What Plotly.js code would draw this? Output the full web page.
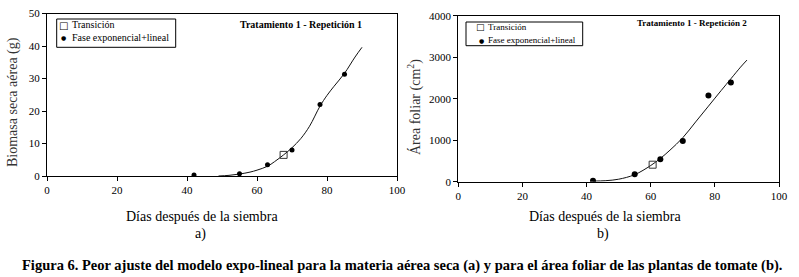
<!DOCTYPE html>
<html>
<head>
<meta charset="utf-8">
<script src="https://cdn.plot.ly/plotly-3.0.1.min.js"></script>
<style>html,body{margin:0;padding:0;background:#fff;}#chart{width:799px;height:277px;}</style>
</head>
<body>
<div id="chart"></div>
<script>
// Panel a) Biomasa seca aérea (g)
const aDays = [42, 55, 63, 70, 78, 85];
const aBiomass = [0.3, 0.7, 3.5, 8.0, 22.0, 31.3];
const aTransDay = [67.6];
const aTransVal = [6.5];
const aFitDays = [49, 52, 55, 58, 60, 63, 65, 67.6, 70, 72.5, 75, 78, 80, 82, 85, 88, 90];
const aFitVals = [0, 0.2, 0.6, 1.2, 1.8, 3.0, 4.4, 6.5, 8.7, 11.5, 15.3, 21.5, 24.8, 27.6, 31.6, 36.6, 39.6];

// Panel b) Área foliar (cm2)
const bDays = [42, 55, 63, 70, 78, 85];
const bArea = [20, 180, 540, 980, 2080, 2390];
const bTransDay = [60.6];
const bTransVal = [410];
const bFitDays = [42, 46, 50, 55, 60, 63, 66, 70, 74, 78, 82, 85, 88, 90];
const bFitVals = [15, 25, 60, 170, 390, 560, 760, 1060, 1440, 1820, 2200, 2480, 2760, 2930];

const xTicks = [0, 20, 40, 60, 80, 100];
const legendLabels = ['Transición', 'Fase exponencial+lineal'];
const serif = 'Liberation Serif, Times New Roman, serif';
const W = 799, H = 277;
const px = v => v / W;
const py = v => 1 - v / H;

const traces = [
  {x: aFitDays, y: aFitVals, type: 'scatter', mode: 'lines', line: {color: '#111', width: 1, shape: 'spline'},
   xaxis: 'x', yaxis: 'y'},
  {x: aTransDay, y: aTransVal, type: 'scatter', mode: 'markers', name: legendLabels[0],
   marker: {symbol: 'square-open', size: 7, color: '#333', line: {width: 1}}, xaxis: 'x', yaxis: 'y'},
  {x: aDays, y: aBiomass, type: 'scatter', mode: 'markers', name: legendLabels[1],
   marker: {symbol: 'circle', size: 5, color: '#000'}, xaxis: 'x', yaxis: 'y'},
  {x: bFitDays, y: bFitVals, type: 'scatter', mode: 'lines', line: {color: '#111', width: 1, shape: 'spline'},
   xaxis: 'x2', yaxis: 'y2'},
  {x: bTransDay, y: bTransVal, type: 'scatter', mode: 'markers', name: legendLabels[0],
   marker: {symbol: 'square-open', size: 7, color: '#333', line: {width: 1}}, xaxis: 'x2', yaxis: 'y2'},
  {x: bDays, y: bArea, type: 'scatter', mode: 'markers', name: legendLabels[1],
   marker: {symbol: 'circle', size: 6, color: '#000'}, xaxis: 'x2', yaxis: 'y2'}
];

const axisBase = {
  showgrid: false, zeroline: false, showline: true, linecolor: '#000', linewidth: 1, mirror: true,
  ticks: 'outside', ticklen: 4, tickcolor: '#000', tickfont: {family: serif, size: 11, color: '#000'}
};

function ann(text, x, y, size, opts) {
  return Object.assign({text: text, xref: 'paper', yref: 'paper', x: px(x), y: py(y),
    xanchor: 'center', yanchor: 'middle', showarrow: false,
    font: {family: serif, size: size, color: '#000'}}, opts || {});
}

const layout = {
  width: W, height: H,
  margin: {l: 0, r: 0, t: 0, b: 0},
  paper_bgcolor: '#fff', plot_bgcolor: '#fff',
  showlegend: false,
  font: {family: serif, color: '#000'},
  xaxis: Object.assign({}, axisBase, {domain: [px(47), px(397)], range: [0, 100], tickvals: xTicks, anchor: 'y'}),
  yaxis: Object.assign({}, axisBase, {domain: [py(176), py(13.5)], range: [0, 50], dtick: 10, anchor: 'x'}),
  xaxis2: Object.assign({}, axisBase, {domain: [px(458.3), px(779)], range: [0, 100], tickvals: xTicks, anchor: 'y2'}),
  yaxis2: Object.assign({}, axisBase, {domain: [py(181.7), py(15.7)], range: [0, 4000], dtick: 1000, anchor: 'x2'}),
  shapes: [
    {type: 'rect', xref: 'paper', yref: 'paper', x0: px(56.7), x1: px(175.7), y0: py(47.3), y1: py(19),
     line: {color: '#000', width: 1}, fillcolor: '#fff', layer: 'above'},
    {type: 'rect', xref: 'paper', yref: 'paper', x0: px(466), x1: px(582.7), y0: py(45.7), y1: py(22),
     line: {color: '#000', width: 1}, fillcolor: '#fff', layer: 'above'}
  ],
  annotations: [
    // legend a)
    ann('□', 63, 25.5, 10, {font: {family: 'DejaVu Sans', size: 10, color: '#000'}}),
    ann(legendLabels[0], 70, 25, 10, {xanchor: 'left'}),
    ann('●', 63, 38, 6, {font: {family: 'DejaVu Sans', size: 6, color: '#000'}}),
    ann(legendLabels[1], 70, 38, 10, {xanchor: 'left'}),
    // legend b)
    ann('□', 480, 27.5, 9, {font: {family: 'DejaVu Sans', size: 9, color: '#000'}}),
    ann(legendLabels[0], 486, 27, 9, {xanchor: 'left'}),
    ann('●', 481, 40.5, 6, {font: {family: 'DejaVu Sans', size: 6, color: '#000'}}),
    ann(legendLabels[1], 486, 40.5, 9, {xanchor: 'left'}),
    // panel titles
    ann('<b>Tratamiento 1 - Repetición 1</b>', 301, 25, 10),
    ann('<b>Tratamiento 1 - Repetición 2</b>', 692, 23.5, 9),
    // axis titles
    ann('Biomasa seca aérea (g)', 13, 102, 14, {textangle: -90, font: {family: serif, size: 14, color: '#333'}}),
    ann('Área foliar (cm<sup>2</sup>)', 415, 107, 14, {textangle: -90, font: {family: serif, size: 14, color: '#333'}}),
    ann('Días después de la siembra', 202, 216, 14),
    ann('a)', 200, 234, 14),
    ann('Días después de la siembra', 605, 216, 14),
    ann('b)', 603, 234, 14),
    // caption
    ann('<b>Figura 6. Peor ajuste del modelo expo-lineal para la materia aérea seca (a) y para el área foliar de las plantas de tomate (b).</b>',
        402, 265, 14.5)
  ]
};

Plotly.newPlot('chart', traces, layout, {staticPlot: true, displayModeBar: false});
</script>
</body>
</html>
